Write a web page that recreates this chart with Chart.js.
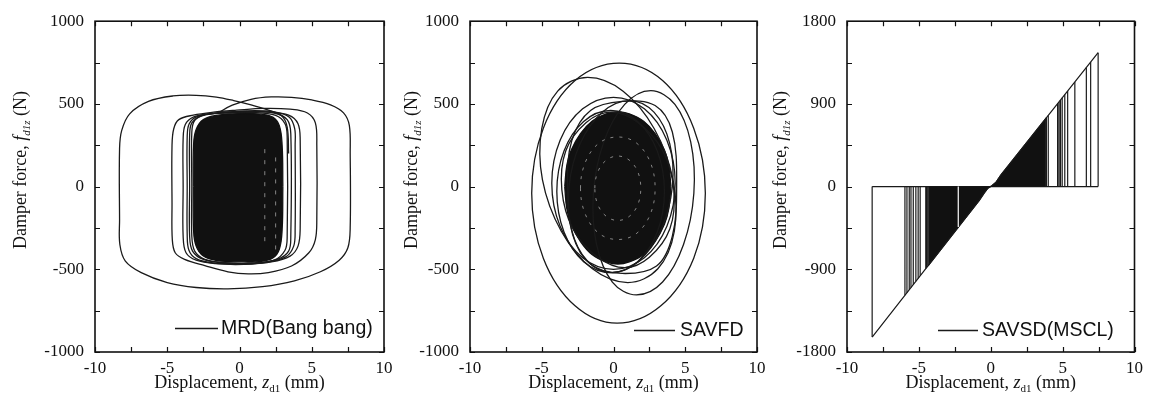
<!DOCTYPE html>
<html>
<head>
<meta charset="utf-8">
<script src="https://cdn.jsdelivr.net/npm/chart.js@4.4.0/dist/chart.umd.min.js"></script>
<style>
  html, body { margin: 0; padding: 0; background: #fff; }
  #wrap { position: relative; width: 1149px; height: 403px; overflow: hidden; background: #fff; }
  canvas { position: absolute; top: 0; }
</style>
</head>
<body>
<div id="wrap">
  <canvas id="c1" width="400" height="403" style="left:0px"></canvas>
  <canvas id="c2" width="390" height="403" style="left:385px"></canvas>
  <canvas id="c3" width="389" height="403" style="left:760px"></canvas>
</div>
<script>
// ═══════════════════════════════════════
//  Damper force vs displacement — 3 panels
// ═══════════════════════════════════════

// labelled ticks
const dispLabels   = [-10, -5, 0, 5, 10];
const forceLabels  = [-1000, -500, 0, 500, 1000];
const forceLabels3 = [-1800, -900, 0, 900, 1800];

// ── panel 1 : MRD (Bang bang) — [z (mm), f (N)] ──
const mrdOuter = [[-1.6,440],[-0.5,492],[0.8,528],[2.2,542],[3.6,540],[5.0,524],[6.3,494],[7.2,446],[7.6,370],[7.66,200],
  [7.66,-250],[7.5,-370],[6.9,-445],[5.6,-515],[3.8,-570],[1.6,-605],[-0.8,-618],[-3.0,-610],[-5.0,-580],[-6.8,-520],
  [-7.9,-450],[-8.28,-350],[-8.3,-200],[-8.3,230],[-8.15,340],[-7.6,440],[-6.3,515],[-4.6,548],[-3.0,552],[-1.6,541],
  [-0.4,520],[0.8,494],[2.0,462],[2.9,430],[3.3,360],[3.4,200]];
const mrdLoopB = [[-4.67,-100],[-4.67,250],[-4.55,350],[-4.2,405],[-3.2,432],[-1.8,450],[-0.2,462],[1.7,473],[3.5,468],[4.7,445],
  [5.25,385],[5.35,250],[5.35,-200],[5.25,-320],[4.8,-400],[3.6,-480],[2.0,-520],[0.6,-528],[-0.8,-515],[-2.4,-478],
  [-3.8,-440],[-4.45,-400],[-4.65,-320]];
const mrdLoopC = [[-3.9,0],[-3.9,290],[-3.75,375],[-3.2,420],[-2.0,440],[0.0,452],[2.0,450],[3.4,432],[4.05,380],[4.2,280],
  [4.2,-250],[4.05,-360],[3.5,-420],[2.2,-455],[0.3,-470],[-1.6,-466],[-3.0,-445],[-3.7,-400],[-3.9,-300]];
const mrdLoopD = [[-3.62,0],[-3.62,300],[-3.48,380],[-2.9,425],[-1.5,445],[0.5,458],[2.4,452],[3.45,420],[3.82,350],[3.85,250],
  [3.85,-260],[3.75,-360],[3.2,-425],[1.8,-458],[0.0,-468],[-1.8,-462],[-3.0,-435],[-3.5,-385],[-3.62,-290]];
const mrdLoopE = [[-3.45,0],[-3.45,310],[-3.3,385],[-2.6,428],[-1.0,448],[0.8,455],[2.4,445],[3.3,405],[3.55,320],
  [3.55,-300],[3.4,-390],[2.6,-440],[0.9,-462],[-1.0,-460],[-2.5,-440],[-3.25,-390],[-3.45,-300]];
const mrdLoopF = [[-3.3,0],[-3.3,330],[-3.1,400],[-2.4,435],[-0.8,445],[1.0,448],[2.5,430],[3.15,380],[3.3,300],
  [3.3,-300],[3.15,-385],[2.4,-445],[0.8,-465],[-1.0,-462],[-2.4,-440],[-3.1,-390],[-3.3,-300]];
// saturated core (many overlapping cycles) and the light streaks left inside it
const mrdCoreTop    = [[-3.2,0],[-3.18,250],[-3.0,345],[-2.5,405],[-1.5,432],[0,442],[1.5,438],[2.3,420],[2.75,370],[2.95,250],[3.0,0]];
const mrdCoreBottom = [[-3.2,0],[-3.18,-260],[-3.0,-360],[-2.5,-420],[-1.5,-448],[0,-455],[1.5,-452],[2.3,-432],[2.75,-380],[2.95,-260],[3.0,0]];
const mrdStreakA = [[1.75,-330],[1.75,260]];
const mrdStreakB = [[2.5,-380],[2.5,200]];

// ── panel 2 : SAVFD — one closed list per cycle ──
const savfdCycle1 = [[-5.70,-40],[-4.89,353],[-2.68,641],[0.40,746],[3.42,641],[5.59,353],[6.40,-40],[5.59,-433],[3.30,-721],[0.25,-826],[-2.68,-721],[-4.89,-433]];
const savfdCycle2 = [[-4.95,40],[-5.0,350],[-3.89,577],[-1.8,660],[0.67,577],[2.84,350],[4.15,40],[4.24,-270],[3.09,-497],[1.0,-580],[-1.47,-497],[-3.64,-270]];
const savfdCycle3 = [[-1.4,-40],[-0.68,270],[0.78,497],[2.6,580],[4.28,497],[5.38,270],[5.6,-40],[4.88,-350],[3.42,-577],[1.6,-655],[-0.08,-577],[-1.18,-350]];
const savfdCycle4 = [[-3.2,0],[-2.9,280],[-1.6,460],[0.6,515],[2.9,490],[4.1,330],[4.4,0],[4.1,-300],[3.0,-480],[0.6,-525],[-1.6,-470],[-2.85,-290]];
const savfdCycle5 = [[-4.3,20],[-3.72,280],[-2.15,470],[0,540],[2.15,470],[3.72,280],[4.3,20],[3.72,-240],[2.15,-430],[0,-500],[-2.15,-430],[-3.72,-240]];
const savfdCycle6 = [[-3.6,-20],[-3.33,215],[-1.9,387],[-0.2,450],[1.7,387],[3.43,215],[4.2,-20],[3.93,-255],[2.5,-427],[0.8,-490],[-1.1,-427],[-2.83,-255]];
const savfdCycle7 = [[-3.1,0],[-2.32,260],[-0.78,450],[1.1,520],[2.82,450],[3.92,260],[4.1,0],[3.32,-260],[1.78,-450],[-0.1,-520],[-1.82,-450],[-2.92,-260]];
const savfdCycle8 = [[-3.95,-30],[-3.45,215],[-2.08,394],[-0.2,460],[1.68,394],[3.05,215],[3.55,-30],[3.05,-275],[1.68,-454],[-0.2,-520],[-2.08,-454],[-3.45,-275]];
const savfdCoreTop    = [[-3.4,0],[-3.25,130],[-2.95,220],[-2.3,320],[-1.5,395],[-0.5,440],[0.3,452],[1.1,440],[2.1,395],[2.9,320],[3.55,220],[3.85,130],[4.0,0]];
const savfdCoreBottom = [[-3.4,0],[-3.25,-135],[-2.95,-228],[-2.3,-332],[-1.5,-410],[-0.5,-455],[0.3,-468],[1.1,-455],[2.1,-410],[2.9,-332],[3.55,-228],[3.85,-135],[4.0,0]];
const savfdRingA = [[-2.3,-10],[-1.95,150],[-0.98,265],[0.3,300],[1.58,265],[2.55,150],[2.9,-10],[2.55,-170],[1.58,-285],[0.3,-320],[-0.98,-285],[-1.95,-170]];
const savfdRingB = [[-1.3,-10],[-1.09,90],[-0.5,160],[0.3,185],[1.1,160],[1.69,90],[1.9,-10],[1.69,-110],[1.1,-180],[0.3,-205],[-0.5,-180],[-1.09,-110]];

// ── panel 3 : SAVSD (MSCL) ──
const savsdDiag  = [[-8.25,-1638],[-0.8,-150],[-0.45,-68],[-0.2,-18],[0.1,12],[0.35,45],[0.7,125],[7.47,1458]];
const savsdZero  = [[-8.25,0],[7.47,0]];
const savsdVertX = [-8.25,-5.97,-5.83,-5.67,-5.55,-5.39,-5.21,-5.05,-4.91,-4.52,-4.45,-4.36,
                    3.87,4.0,4.65,4.75,4.85,4.97,5.15,5.35,5.85,6.65,6.95,7.47];
const savsdVertY = [-1638,-1182,-1155,-1123,-1099,-1067,-1031,-999,-971,-893,-879,-861,
                    749,775,903,922,942,966,1001,1041,1139,1297,1356,1458];
const savsdFillLeft  = [[-4.3,0],[-4.3,-850],[-0.8,-150],[-0.45,-68],[-0.2,-18],[0,0]];
const savsdFillRight = [[0,0],[0.1,12],[0.35,45],[0.7,125],[3.82,739],[3.82,0]];
const savsdGap = [[-2.26,0],[-2.26,-440]];

// ── helpers ──
const INK = '#1a1a1a';
const HIDE = 'rgba(0,0,0,0)';
const pts = arr => arr.map(([x, y]) => ({ x, y }));

// closed smooth cycle: wrap one point on each side so every visible joint gets a proper tangent,
// and hide the two wrap segments
function cycleSet(arr, style) {
  const n = arr.length;
  const s = style || {};
  const color = s.color || INK;
  return {
    data: pts([arr[n - 1], ...arr, arr[0], arr[1]]),
    borderColor: color, borderWidth: s.width || 1.3, borderDash: s.dash || [],
    pointRadius: 0, tension: 0.36, fill: false, order: s.order || 2,
    segment: { borderColor: c => (c.p0DataIndex === 0 || c.p0DataIndex === n + 1) ? HIDE : color }
  };
}
function pathSet(arr) {
  return { data: pts(arr), borderColor: INK, borderWidth: 1.3, pointRadius: 0, tension: 0.36, fill: false, order: 2 };
}
function coreSet(top, bottom) {
  return [
    { data: pts(top), borderColor: '#111', backgroundColor: '#111', borderWidth: 1.3, pointRadius: 0, tension: 0.4, fill: '+1', order: 3 },
    { data: pts(bottom), borderColor: '#111', borderWidth: 1.3, pointRadius: 0, tension: 0.4, fill: false, order: 3 }
  ];
}
const streakStyle = { color: 'rgba(255,255,255,0.55)', width: 0.9, dash: [3, 6], order: 1 };
function streakSet(arr) {
  return { data: pts(arr), borderColor: streakStyle.color, borderWidth: streakStyle.width, borderDash: [4, 7],
           pointRadius: 0, tension: 0, fill: false, order: 1 };
}
function straightSet(data, color, fill) {
  return { data, borderColor: color || INK, backgroundColor: '#111', borderWidth: 1.2, pointRadius: 0, tension: 0,
           fill: fill ? 'origin' : false, spanGaps: false, order: color ? 0 : 1 };
}

function drawParts(ctx, parts, cx, baseY) {
  let w = 0;
  parts.forEach(p => { ctx.font = p.f; w += ctx.measureText(p.t).width; });
  let x = cx - w / 2;
  ctx.textAlign = 'left';
  ctx.textBaseline = 'alphabetic';
  parts.forEach(p => { ctx.font = p.f; ctx.fillText(p.t, x, baseY + (p.dy || 0)); x += ctx.measureText(p.t).width; });
}

const SERIF = '"Liberation Serif", "Times New Roman", serif';
const SANS  = '"Liberation Sans", Arial, sans-serif';

const panelDecor = {
  id: 'panelDecor',
  afterDraw(chart, args, o) {
    const { ctx, chartArea: a, scales: { x, y } } = chart;
    ctx.save();
    ctx.strokeStyle = '#111';
    ctx.lineWidth = 1.2;
    const tl = 5;
    ctx.beginPath();
    x.ticks.forEach(t => {
      const px = Math.round(x.getPixelForValue(t.value)) + 0.5;
      ctx.moveTo(px, a.bottom); ctx.lineTo(px, a.bottom - tl);
      ctx.moveTo(px, a.top);    ctx.lineTo(px, a.top + tl);
    });
    y.ticks.forEach(t => {
      const py = Math.round(y.getPixelForValue(t.value)) + 0.5;
      ctx.moveTo(a.left, py);  ctx.lineTo(a.left + tl, py);
      ctx.moveTo(a.right, py); ctx.lineTo(a.right - tl, py);
    });
    ctx.stroke();
    ctx.lineWidth = 1.6;
    ctx.strokeRect(a.left, a.top, a.right - a.left, a.bottom - a.top);

    // axis titles
    ctx.fillStyle = '#111';
    drawParts(ctx, [
      { t: 'Displacement, ', f: '18px ' + SERIF },
      { t: 'z', f: 'italic 18px ' + SERIF },
      { t: 'd1', f: '11px ' + SERIF, dy: 4 },
      { t: ' (mm)', f: '18px ' + SERIF }
    ], (a.left + a.right) / 2, 388);

    ctx.save();
    ctx.translate(o.yTitleX, 170);
    ctx.rotate(-Math.PI / 2);
    drawParts(ctx, [
      { t: 'Damper force, ', f: '18px ' + SERIF },
      { t: 'f', f: 'italic 18px ' + SERIF },
      { t: 'd1z', f: 'italic 11px ' + SERIF, dy: 4 },
      { t: ' (N)', f: '18px ' + SERIF }
    ], 0, 6);
    ctx.restore();

    // legend
    ctx.lineWidth = 1.3;
    ctx.strokeStyle = INK;
    ctx.beginPath();
    ctx.moveTo(o.lineX0, o.legY + 0.5); ctx.lineTo(o.lineX1, o.legY + 0.5);
    ctx.stroke();
    ctx.font = o.legFont + 'px ' + SANS;
    ctx.textAlign = 'left';
    ctx.textBaseline = 'middle';
    ctx.fillStyle = '#111';
    ctx.fillText(o.legText, o.textX, o.legY + 1);
    ctx.restore();
  }
};

function makeOptions(yMin, yMax, yStep, yLabels, axisW, padRight, decor) {
  const tickFont = { family: SERIF, size: 17 };
  return {
    responsive: false,
    animation: false,
    devicePixelRatio: 1,
    layout: { padding: { top: 19, right: padRight, left: 0, bottom: 0 } },
    plugins: { legend: { display: false }, tooltip: { enabled: false }, panelDecor: decor },
    scales: {
      x: {
        type: 'linear', min: -10, max: 10,
        grid: { display: false, drawTicks: false }, border: { display: false },
        ticks: { stepSize: 2.5, autoSkip: false, maxRotation: 0, padding: 6, color: '#111', font: tickFont,
                 callback: v => dispLabels.includes(v) ? String(v) : '' },
        afterFit: s => { s.height = 51; }
      },
      y: {
        type: 'linear', min: yMin, max: yMax,
        grid: { display: false, drawTicks: false }, border: { display: false },
        ticks: { stepSize: yStep, autoSkip: false, padding: 11, color: '#111', font: tickFont,
                 callback: v => yLabels.includes(v) ? String(v) : '' },
        afterFit: s => { s.width = axisW; }
      }
    }
  };
}

// ── panel 1 ──
new Chart(document.getElementById('c1'), {
  type: 'line',
  data: { datasets: [
    streakSet(mrdStreakA), streakSet(mrdStreakB),
    ...coreSet(mrdCoreTop, mrdCoreBottom),
    pathSet(mrdOuter), cycleSet(mrdLoopB), cycleSet(mrdLoopC), cycleSet(mrdLoopD), cycleSet(mrdLoopE), cycleSet(mrdLoopF)
  ] },
  options: makeOptions(-1000, 1000, 250, forceLabels, 95, 16,
    { yTitleX: 20, legY: 328, lineX0: 175, lineX1: 218, textX: 221, legText: 'MRD(Bang bang)', legFont: 19.5 }),
  plugins: [panelDecor]
});

// ── panel 2 ──
new Chart(document.getElementById('c2'), {
  type: 'line',
  data: { datasets: [
    cycleSet(savfdRingA, streakStyle), cycleSet(savfdRingB, streakStyle),
    ...coreSet(savfdCoreTop, savfdCoreBottom),
    cycleSet(savfdCycle1), cycleSet(savfdCycle2), cycleSet(savfdCycle3), cycleSet(savfdCycle4),
    cycleSet(savfdCycle5), cycleSet(savfdCycle6), cycleSet(savfdCycle7), cycleSet(savfdCycle8)
  ] },
  options: makeOptions(-1000, 1000, 250, forceLabels, 85, 18,
    { yTitleX: 26, legY: 330, lineX0: 249, lineX1: 290, textX: 295, legText: 'SAVFD', legFont: 19.5 }),
  plugins: [panelDecor]
});

// ── panel 3 ──
const vertData = [];
savsdVertX.forEach((vx, i) => {
  vertData.push({ x: vx, y: 0 }, { x: vx, y: savsdVertY[i] }, { x: vx, y: null });
});
new Chart(document.getElementById('c3'), {
  type: 'line',
  data: { datasets: [
    straightSet(pts(savsdGap), '#ffffff'),
    straightSet(pts(savsdFillLeft), null, true),
    straightSet(pts(savsdFillRight), null, true),
    straightSet(pts(savsdDiag)),
    straightSet(pts(savsdZero)),
    straightSet(vertData)
  ] },
  options: makeOptions(-1800, 1800, 450, forceLabels3, 87, 12,
    { yTitleX: 20, legY: 330, lineX0: 178, lineX1: 218, textX: 222, legText: 'SAVSD(MSCL)', legFont: 19.5 }),
  plugins: [panelDecor]
});
</script>
</body>
</html>
